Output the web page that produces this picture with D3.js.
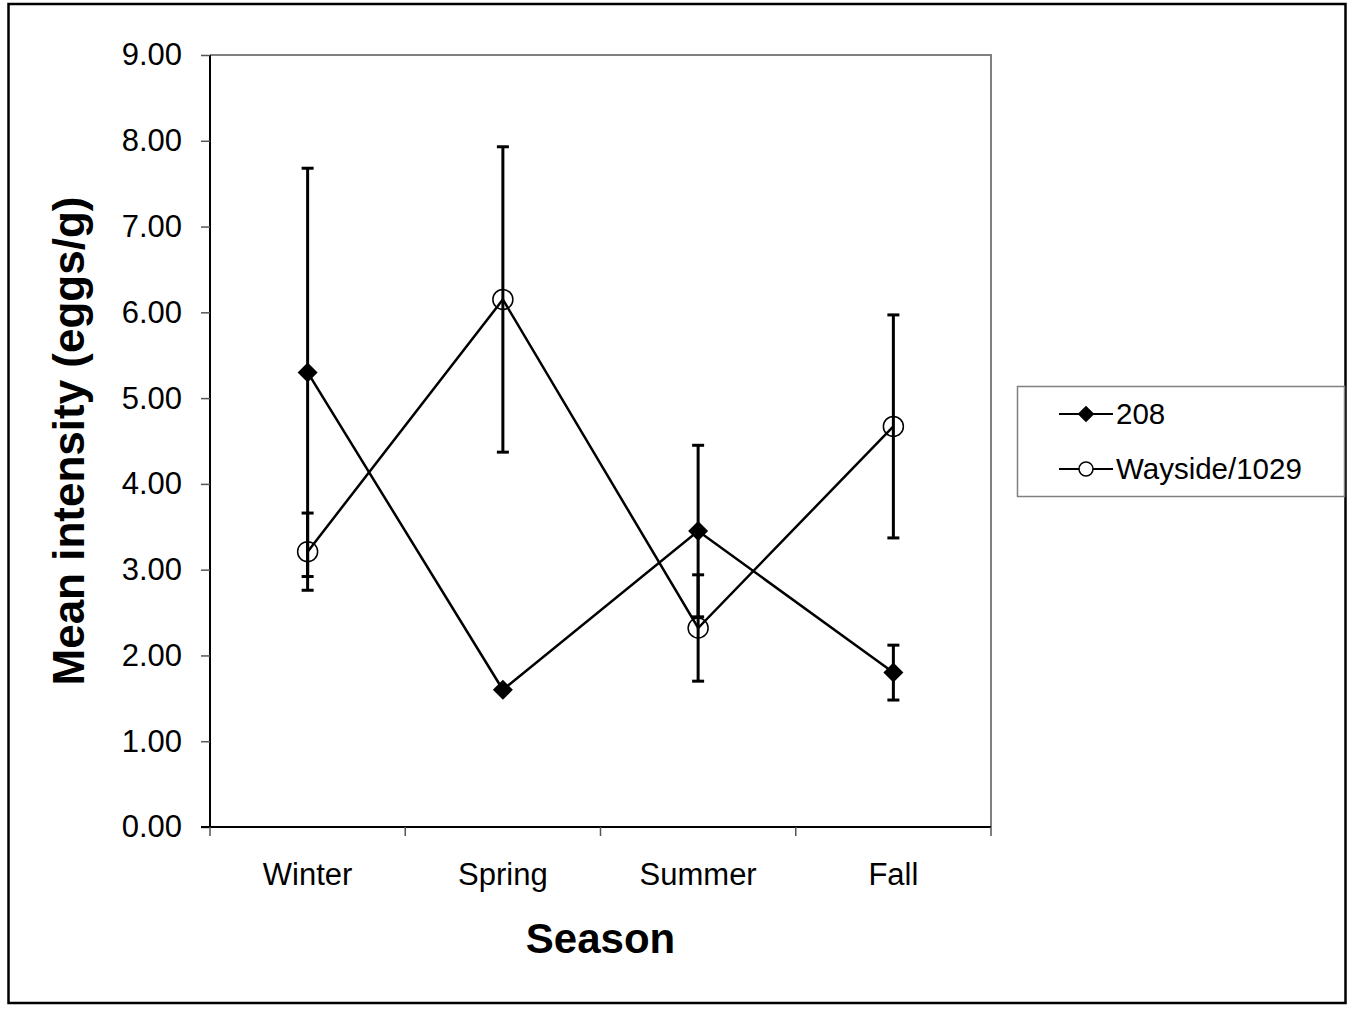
<!DOCTYPE html>
<html>
<head>
<meta charset="utf-8">
<script src="https://d3js.org/d3.v7.min.js"></script>
<style>
  body { margin: 0; background: #fff; }
  text { font-family: "Liberation Sans", Arial, sans-serif; }
</style>
</head>
<body>
<script>
var seasons = ["Winter", "Spring", "Summer", "Fall"];
var seriesNames = ["208", "Wayside/1029"];
var mean208 = [5.30, 1.60, 3.45, 1.80];
var err208 = [2.38, 0.0, 1.00, 0.32];
var meanWayside = [3.21, 6.15, 2.32, 4.67];
var errWayside = [0.45, 1.78, 0.62, 1.30];
var yTicks = [0, 1, 2, 3, 4, 5, 6, 7, 8, 9];

var width = 1353, height = 1013;
var svg = d3.select("body").append("svg").attr("width", width).attr("height", height);

svg.append("rect").attr("x", 8.5).attr("y", 4).attr("width", 1337).attr("height", 999)
  .attr("fill", "none").attr("stroke", "#000").attr("stroke-width", 2.5);

var pLeft = 210, pRight = 991, pTop = 55, pBottom = 827;
var x = d3.scaleBand().domain(seasons).range([pLeft, pRight]);
var y = d3.scaleLinear().domain([0, 9]).range([pBottom, pTop]);

// plot border (gray top/right)
svg.append("path").attr("d", "M" + pLeft + "," + pTop + "H" + pRight + "V" + pBottom)
  .attr("fill", "none").attr("stroke", "#808080").attr("stroke-width", 2);

var yAxis = svg.append("g").attr("transform", "translate(" + pLeft + ",0)")
  .call(d3.axisLeft(y).tickValues(yTicks).tickFormat(d3.format(".2f")).tickSize(9).tickPadding(19));
var xAxis = svg.append("g").attr("transform", "translate(0," + pBottom + ")")
  .call(d3.axisBottom(x).tickSize(0).tickPadding(36));
[yAxis, xAxis].forEach(function(g) {
  g.select(".domain").attr("stroke", "#000").attr("stroke-width", 2);
  g.selectAll(".tick line").attr("stroke", "#555").attr("stroke-width", 1.5);
  g.selectAll("text").attr("font-size", 31).attr("fill", "#000")
    .attr("font-family", "Liberation Sans, Arial, sans-serif");
});
yAxis.select(".domain").attr("d", "M0," + pTop + "V" + pBottom);
xAxis.select(".domain").attr("d", "M" + (pLeft - 9) + ",0H" + pRight);
// category boundary ticks
xAxis.selectAll(".bt").data(seasons.concat(["end"])).enter().append("line")
  .attr("x1", function(d, i) { return pLeft + i * x.bandwidth(); })
  .attr("x2", function(d, i) { return pLeft + i * x.bandwidth(); })
  .attr("y1", 0).attr("y2", 9).attr("stroke", "#555").attr("stroke-width", 1.5);

var cx = function(i) { return x(seasons[i]) + x.bandwidth() / 2; };

function diamond(g, px, py, s) {
  g.append("path").attr("d", d3.symbol().type(d3.symbolSquare).size(s)())
    .attr("transform", "translate(" + px + "," + py + ") rotate(45)").attr("fill", "#000");
}
function circle(g, px, py, r) {
  g.append("circle").attr("cx", px).attr("cy", py).attr("r", r)
    .attr("fill", "none").attr("stroke", "#000").attr("stroke-width", 1.5);
}

function drawSeries(means, errs, marker) {
  var line = d3.line().x(function(d, i) { return cx(i); }).y(function(d) { return y(d); });
  svg.append("path").datum(means).attr("d", line)
    .attr("fill", "none").attr("stroke", "#000").attr("stroke-width", 2.5);
  var eb = svg.append("g");
  means.forEach(function(m, i) {
    if (errs[i] <= 0) return;
    var c = cx(i), y1 = y(m + errs[i]), y2 = y(m - errs[i]);
    eb.append("line").attr("x1", c).attr("x2", c).attr("y1", y1).attr("y2", y2)
      .attr("stroke", "#000").attr("stroke-width", 3);
    [y1, y2].forEach(function(yy) {
      eb.append("line").attr("x1", c - 6).attr("x2", c + 6).attr("y1", yy).attr("y2", yy)
        .attr("stroke", "#000").attr("stroke-width", 3);
    });
  });
  means.forEach(function(m, i) { marker(svg, cx(i), y(m)); });
}

drawSeries(mean208, err208, function(g, px, py) { diamond(g, px, py, 200); });
drawSeries(meanWayside, errWayside, function(g, px, py) { circle(g, px, py, 10); });

// axis titles
svg.append("text").attr("x", (pLeft + pRight) / 2).attr("y", 953).attr("text-anchor", "middle")
  .attr("font-size", 42).attr("font-weight", "bold").text("Season");
svg.append("text").attr("transform", "translate(84," + ((pTop + pBottom) / 2) + ") rotate(-90)")
  .attr("text-anchor", "middle").attr("font-size", 44).attr("font-weight", "bold")
  .text("Mean intensity (eggs/g)");

// legend
var lg = svg.append("g");
lg.append("rect").attr("x", 1017.5).attr("y", 386.5).attr("width", 327).attr("height", 110)
  .attr("fill", "#fff").attr("stroke", "#808080").attr("stroke-width", 1.5);
seriesNames.forEach(function(name, i) {
  var ly = 414 + i * 55;
  lg.append("line").attr("x1", 1059).attr("x2", 1113).attr("y1", ly).attr("y2", ly)
    .attr("stroke", "#000").attr("stroke-width", 2);
  if (i === 0) diamond(lg, 1086, ly, 140);
  else lg.append("circle").attr("cx", 1086).attr("cy", ly).attr("r", 7)
    .attr("fill", "#fff").attr("stroke", "#000").attr("stroke-width", 1.5);
  lg.append("text").attr("x", 1116).attr("y", ly + 10).attr("font-size", 29.5).text(name);
});
</script>
</body>
</html>
